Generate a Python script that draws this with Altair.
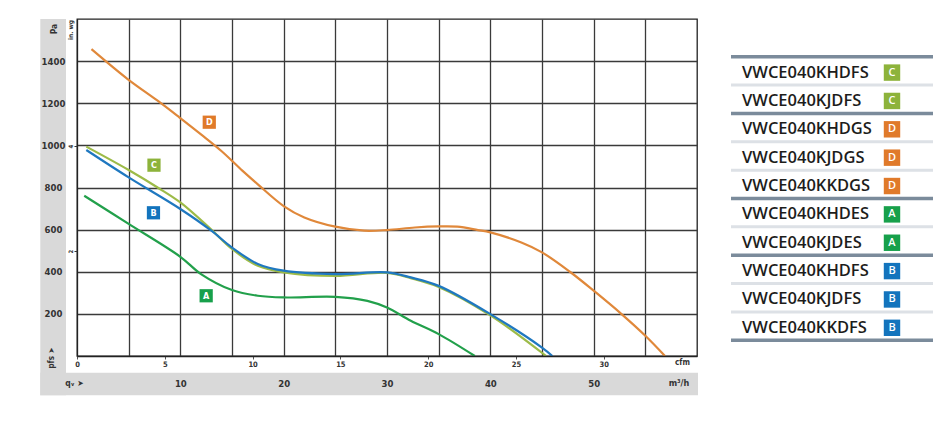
import altair as alt
import pandas as pd

M3H_PER_CFM = 1.699
PA_PER_INWG = 249.09

# fan curves, air flow in m3/h and static pressure in Pa
a_q = [0.7, 5, 10, 12, 15, 17.5, 20, 25, 28.1, 30, 32.3, 35, 38.5]
a_p = [761, 627, 471, 389, 313, 286, 278, 281, 262, 230, 167, 104, 0]

b_q = [0.9, 5, 10, 13, 15, 17.5, 20, 25, 30, 32.3, 35, 40, 45, 46]
b_p = [978, 848, 698, 595, 515, 437, 405, 389, 397, 373, 333, 199, 40, 0]

c_q = [0.9, 5, 7.8, 10, 13, 15, 17.5, 20, 25, 30, 32.3, 35, 40, 45.4]
c_p = [994, 883, 800, 729, 600, 508, 428, 397, 380, 395, 370, 328, 193, 0]

d_q = [1.4, 4.9, 7.8, 9.9, 12, 14, 16, 17.5, 20, 22, 25, 27.8, 30, 32.7, 35,
       36.8, 38.8, 40, 43, 45, 47.7, 50, 52.7, 55, 56.9]
d_p = [1457, 1315, 1212, 1133, 1052, 972, 880, 815, 712, 658, 614, 595, 598, 610, 615,
       614, 598, 587, 539, 492, 400, 310, 199, 96, 0]

# curve tags inside the plot
tag_letter = ["D", "C", "B", "A"]
tag_q = [12.8, 7.45, 7.4, 12.5]
tag_p = [1110, 906, 680, 286]

letters = ["A", "B", "C", "D"]
badge_colors = ["#17a04b", "#1374bd", "#8db33b", "#e07a2a"]

# model table
models = ["VWCE040KHDFS", "VWCE040KJDFS", "VWCE040KHDGS", "VWCE040KJDGS", "VWCE040KKDGS",
          "VWCE040KHDES", "VWCE040KJDES", "VWCE040KHDFS", "VWCE040KJDFS", "VWCE040KKDFS"]
model_class = ["C", "C", "D", "D", "D", "A", "A", "B", "B", "B"]

pa_ticks = [200, 400, 600, 800, 1000, 1200, 1400]
m3h_ticks = [10, 20, 30, 40, 50]
cfm_ticks = [0, 5, 10, 15, 20, 25, 30]
inwg_ticks = [2, 4]

COND = "Liberation Sans Narrow, DejaVu Sans Condensed, sans-serif"
INK = "#333333"
GRID = "#3a3a3a"
BAND = "#d9d9d9"

W, H = 620, 337
x_scale = alt.Scale(domain=[0, 60], nice=False, zero=False)
y_scale = alt.Scale(domain=[0, 1600], nice=False, zero=False)

cfm_axis = alt.Axis(values=[v * M3H_PER_CFM for v in cfm_ticks], labelExpr="round(datum.value / 1.699)",
                    orient="bottom", grid=False, tickSize=3, tickColor="#555", domainColor="#222",
                    domainWidth=1.3, labelFont=COND, labelFontSize=7.5, labelFontWeight="bold",
                    labelColor=INK, labelPadding=1, labelFlush=False, labelOverlap=False,
                    title=None, zindex=1)
pa_axis = alt.Axis(values=pa_ticks, format="d", orient="left", grid=False, ticks=False, tickSize=0,
                   domainColor="#222", domainWidth=1.3, labelAlign="center", labelBaseline="middle",
                   labelPadding=24, labelFont=COND, labelFontSize=9.5, labelFontWeight="bold",
                   labelColor=INK, title="Pa", titleX=-24, titleY=9.5, titleAngle=270,
                   titleAlign="center", titleBaseline="middle", titleFont=COND, titleFontSize=8.5,
                   titleFontWeight="bold", titleColor=INK, zindex=1)
xgrid_axis = alt.Axis(values=list(range(5, 60, 5)), orient="bottom", grid=True, gridColor=GRID,
                      gridWidth=1.3, labels=False, ticks=False, domain=False, title=None, zindex=0)
ygrid_axis = alt.Axis(values=pa_ticks, orient="left", grid=True, gridColor=GRID, gridWidth=1.3,
                      labels=False, ticks=False, domain=False, title=None, zindex=0)
m3h_axis = alt.Axis(values=m3h_ticks, orient="bottom", grid=False, ticks=False, tickSize=0,
                    domain=False, labelBaseline="middle", labelPadding=27, labelFont=COND,
                    labelFontSize=9.5, labelFontWeight="bold", labelColor=INK, title=None, zindex=1)
inwg_axis = alt.Axis(values=[v * PA_PER_INWG for v in inwg_ticks], labelExpr="round(datum.value / 249.09)",
                     orient="left", grid=False, tickSize=3, tickColor=INK, domain=False,
                     labelAngle=270, labelAlign="center", labelBaseline="bottom", labelPadding=1,
                     labelFont=COND, labelFontSize=6, labelFontWeight="bold", labelColor=INK,
                     title="in. wg", titleX=-6.8, titleY=10.5, titleAngle=270, titleAlign="center",
                     titleBaseline="middle", titleFont=COND, titleFontSize=6.5, titleFontWeight="bold",
                     titleColor=INK, zindex=1)
no_axis = alt.Axis(labels=False, ticks=False, domain=False, grid=False, title=None)


def curve(q, p, color, x_axis, y_axis):
    df = pd.DataFrame({"q": q, "p": p})
    return alt.Chart(df).mark_line(color=color, strokeWidth=2.2, interpolate="catmull-rom").encode(
        x=alt.X("q:Q", scale=x_scale, axis=x_axis),
        y=alt.Y("p:Q", scale=y_scale, axis=y_axis),
    )


one = pd.DataFrame({"k": [0]})


def band(x, x2, y, y2):
    return alt.Chart(one).mark_rect(color=BAND).encode(
        x=alt.value(x), x2=alt.value(x2), y=alt.value(y), y2=alt.value(y2))


def note(text, x, y, size, angle=0):
    return alt.Chart(one).mark_text(text=text, font=COND, fontSize=size, fontWeight="bold",
                                    color=INK, angle=angle, align="center", baseline="middle").encode(
        x=alt.value(x), y=alt.value(y))


tags = pd.DataFrame({"letter": tag_letter, "q": tag_q, "p": tag_p})
tag_base = alt.Chart(tags).encode(
    x=alt.X("q:Q", scale=x_scale, axis=None),
    y=alt.Y("p:Q", scale=y_scale, axis=None),
)
tag_boxes = tag_base.mark_square(size=175, opacity=1).encode(
    fill=alt.Fill("letter:N", scale=alt.Scale(domain=letters, range=badge_colors), legend=None))
tag_text = tag_base.mark_text(font=COND, fontSize=9, fontWeight="bold", color="white").encode(
    text="letter:N")

main = alt.layer(
    band(-36.7, -11, 0, 376.3),
    band(-36.7, 621, 353.7, 376.3),
    curve(a_q, a_p, "#22a04b", cfm_axis, pa_axis),
    curve(c_q, c_p, "#9dbb48", xgrid_axis, ygrid_axis),
    curve(b_q, b_p, "#1f78c0", m3h_axis, inwg_axis),
    curve(d_q, d_p, "#e0883a", no_axis, no_axis),
    tag_boxes,
    tag_text,
    note("cfm", 605.5, 344.3, 8),
    note("m³/h", 602, 364.3, 9),
    note("qᵥ ➤", -2.5, 364.3, 8.5),
    note("pfs ➤", -25, 339, 8, angle=270),
).resolve_axis(x="independent", y="independent").properties(
    width=W, height=H, view=alt.ViewBackground(stroke="#222", strokeWidth=1.3))

# legend table on the right
TW = 202
rows = pd.DataFrame({"model": models, "cls": model_class, "mid": [i + 0.56 for i in range(len(models))]})
seps = pd.DataFrame({
    "k": list(range(len(models) + 1)),
    "kind": ["thick" if k in (0, len(models)) or model_class[k] != model_class[k - 1] else "light"
             for k in range(len(models) + 1)],
})
t_scale = alt.Scale(domain=[-1.33, 10.554], reverse=True, nice=False, zero=False)

sep_rules = alt.Chart(seps).mark_rule().encode(
    y=alt.Y("k:Q", scale=t_scale, axis=None),
    x=alt.value(0), x2=alt.value(TW),
    color=alt.Color("kind:N", scale=alt.Scale(domain=["light", "thick"], range=["#dde1e6", "#7b8b9b"]),
                    legend=None),
    strokeWidth=alt.StrokeWidth("kind:N", scale=alt.Scale(domain=["light", "thick"], range=[3, 3.5]),
                                legend=None),
    order=alt.Order("kind:N", sort="ascending"),
)
row_text = alt.Chart(rows).mark_text(align="left", baseline="middle", font="Open Sans", fontSize=16.5,
                                     fontWeight=600, color="#1d1d1b").encode(
    x=alt.value(11), y=alt.Y("mid:Q", scale=t_scale, axis=None), text="model:N")
row_badge = alt.Chart(rows).mark_square(size=270, opacity=1).encode(
    x=alt.value(161), y=alt.Y("mid:Q", scale=t_scale, axis=None),
    fill=alt.Fill("cls:N", scale=alt.Scale(domain=letters, range=badge_colors), legend=None))
row_letter = alt.Chart(rows).mark_text(font="Open Sans", fontSize=11, fontWeight=600, color="white",
                                       baseline="middle").encode(
    x=alt.value(161), y=alt.Y("mid:Q", scale=t_scale, axis=None), text="cls:N")

table = alt.layer(sep_rules, row_text, row_badge, row_letter).properties(
    width=TW, height=H, view=alt.ViewBackground(stroke="transparent"))

chart = alt.hconcat(main, table, spacing=29).resolve_scale(color="independent", fill="independent").properties(
    padding={"left": 31, "top": 10, "right": 0, "bottom": 0}, background="white")

chart.save("out.html", embed_options={"renderer": "svg", "actions": False})
